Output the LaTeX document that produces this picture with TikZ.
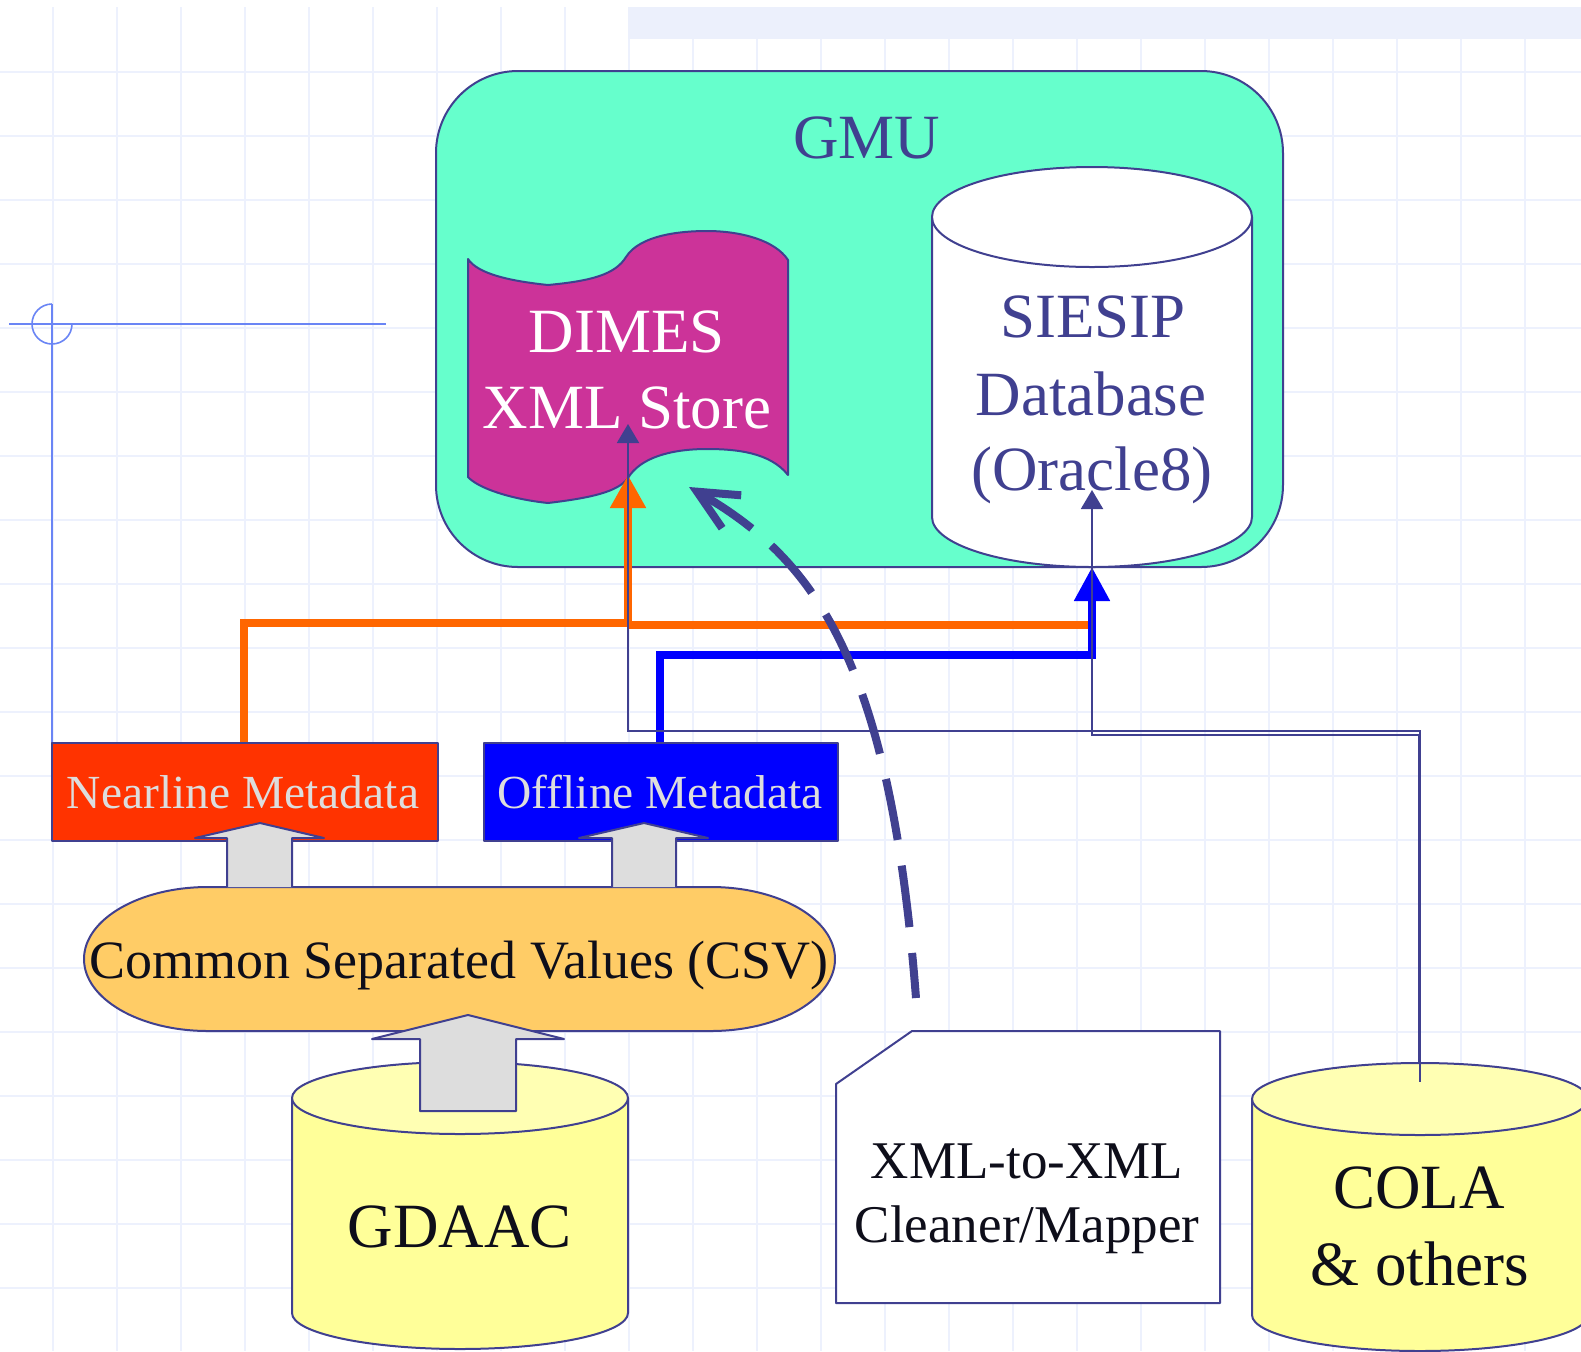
\documentclass[tikz,border=0pt]{standalone}
\usepackage{fontspec}
\setmainfont{Liberation Serif}
\usetikzlibrary{arrows.meta}
\definecolor{gridc}{HTML}{EDF1FD}
\definecolor{bandc}{HTML}{ECF0FC}
\definecolor{edgec}{HTML}{404090}
\definecolor{crossc}{HTML}{6A85F5}
\definecolor{gmuc}{HTML}{66FFCC}
\definecolor{dimesc}{HTML}{CC3399}
\definecolor{nearc}{HTML}{FF3300}
\definecolor{offc}{HTML}{0000FF}
\definecolor{grayc}{HTML}{DDDDDD}
\definecolor{csvc}{HTML}{FFCC66}
\definecolor{cylc}{HTML}{FFFF99}
\definecolor{cyltopc}{HTML}{FFFFB3}
\definecolor{orangec}{HTML}{FF6600}
\definecolor{textdark}{HTML}{0E0E1A}
\definecolor{metatext}{HTML}{DDDDDD}
\tikzset{
  gridline/.style={draw=gridc, line width=1pt},
  crossline/.style={draw=crossc, line width=0.8pt},
  outline/.style={draw=edgec, line width=1pt, line join=round},
  thinconn/.style={draw=edgec, line width=1pt, -{Triangle[width=11pt,length=9.5pt]}},
  thickorange/.style={draw=orangec, line width=4pt},
  thickblue/.style={draw=offc, line width=4pt},
  bigtxt/.style={font=\fontsize{31.5}{37}\selectfont, inner sep=0pt, anchor=base},
  midtxt/.style={font=\fontsize{26.5}{32}\selectfont, inner sep=0pt, anchor=base},
  metatxt/.style={font=\fontsize{23.75}{28}\selectfont, inner sep=0pt, anchor=base, text=metatext},
  dashcurve/.style={draw=edgec, line width=4pt, dash pattern=on 31pt off 13pt},
}
\begin{document}
\begin{tikzpicture}[x=0.5pt,y=-0.5pt]
\useasboundingbox (0,0) rectangle (1581,1351);
\clip (0,0) rectangle (1581,1351);
\fill[white] (0,0) rectangle (1581,1351);
% background grid
\foreach \i in {0,...,23} \draw[gridline] ({53+64*\i},7) -- ({53+64*\i},1351);
\foreach \j in {1,...,20} \draw[gridline] (0,{8+64*\j}) -- (1581,{8+64*\j});
\fill[bandc] (628,7) rectangle (1581,39);

% named points
\coordinate (nearTL) at (52,743);
\coordinate (nearTop) at (244,743);
\coordinate (offTop) at (660,743);
\coordinate (dimesBot) at (628,475);
\coordinate (dimesIn) at (628,424);
\coordinate (dimesBend) at (628,731);
\coordinate (siesipBot) at (1092,567);
\coordinate (siesipIn) at (1092,490);
\coordinate (siesipBend) at (1092,735);
\coordinate (orangeSplit) at (628,625);
\coordinate (orangeEnd) at (1089,625);
\coordinate (colaTopA) at (1420,1082);
\coordinate (colaTopB) at (1419,1082);
\coordinate (dimesNear) at (689,487);
\coordinate (xmlOut) at (916,998);
\coordinate (crossC) at (52,324);
\coordinate (crossL) at (9,324);
\coordinate (crossR) at (386,324);
\coordinate (crossTop) at (52,304);

% crosshair
\draw[crossline] (crossL) -- (crossR);
\draw[crossline] (72,324) arc[start angle=0, end angle=270, radius=20];
\draw[crossline] (crossTop) -- (nearTL);

% GMU container
\draw[outline, fill=gmuc, rounded corners=41pt] (436,71) rectangle (1283,567);
\node[bigtxt, text=edgec] (gmuT) at (867,158) {GMU};

% DIMES document
\draw[outline, fill=dimesc]
  (468,477) -- (468,259)
  .. controls (478,274) and (510,281) .. (548,285)
  .. controls (590,281) and (615,275) .. (626,257)
  .. controls (640,235) and (680,231) .. (707,231)
  .. controls (740,231) and (775,240) .. (788,260)
  -- (788,475)
  .. controls (770,452) and (735,449) .. (707,449)
  .. controls (670,449) and (640,458) .. (628,478)
  .. controls (618,492) and (590,498) .. (548,503)
  .. controls (510,499) and (478,488) .. (468,477) -- cycle;
\node[bigtxt, text=white] (dimesA) at (627,352) {DIMES};
\node[bigtxt, text=white] (dimesB) at (627,428) {XML Store};

% SIESIP cylinder
\draw[outline, fill=white] (932,217) -- (932,517)
  arc[start angle=180, end angle=0, x radius=160, y radius=50] -- (1252,217) -- cycle;
\draw[outline, fill=white] (1092,217) ellipse [x radius=160, y radius=50];
\node[bigtxt, text=edgec] (siesipA) at (1093,337) {SIESIP};
\node[bigtxt, text=edgec] (siesipB) at (1091,415) {Database};
\node[bigtxt, text=edgec] (siesipC) at (1092,490) {(Oracle8)};

% thick connectors
\draw[thickorange, -{Triangle[width=17pt,length=16.5pt]}] (nearTop) -- ++(0,-120) -| (dimesBot);
\draw[thickorange] (orangeSplit) -- (orangeEnd);
\draw[thickblue, -{Triangle[width=17pt,length=17pt]}] (offTop) -- ++(0,-88) -| (siesipBot);

% thin connectors
\draw[thinconn] (colaTopA) |- (dimesBend) -- (dimesIn);
\draw[thinconn] (colaTopB) |- (siesipBend) -- (siesipIn);

% metadata boxes
\draw[outline, fill=nearc] (52,743) rectangle (438,841);
\node[metatxt] (nearT) at (243,808) {Nearline Metadata};
\draw[outline, fill=offc] (484,743) rectangle (838,841);
\node[metatxt] (offT) at (660,808) {Offline Metadata};

% CSV
\draw[outline, fill=csvc] (208,887) -- (711,887)
  arc[start angle=270, end angle=450, x radius=124, y radius=72]
  -- (208,1031)
  arc[start angle=90, end angle=270, x radius=124, y radius=72] -- cycle;
\node[midtxt, text=textdark, font=\fontsize{27}{32}\selectfont] (csvT) at (459,978) {Common Separated Values (CSV)};

% block arrows CSV -> metadata
\draw[outline, fill=grayc] (227,887) -- (227,838) -- (195,838) -- (260,823) -- (324,838) -- (292,838) -- (292,887);
\draw[outline, fill=grayc] (612,887) -- (612,838) -- (579,838) -- (644,823) -- (708,838) -- (676,838) -- (676,887);

% GDAAC cylinder
\draw[outline, fill=cylc] (292,1098) -- (292,1313)
  arc[start angle=180, end angle=0, x radius=168, y radius=36] -- (628,1098) -- cycle;
\draw[outline, fill=cyltopc] (460,1098) ellipse [x radius=168, y radius=36];
\node[bigtxt, text=textdark] (gdaacT) at (460,1247) {GDAAC};
\draw[outline, fill=grayc] (420,1111) -- (420,1039) -- (372,1039) -- (468,1015) -- (564,1039) -- (516,1039) -- (516,1111) -- cycle;

% COLA cylinder
\draw[outline, fill=cylc] (1252,1099) -- (1252,1315)
  arc[start angle=180, end angle=0, x radius=168, y radius=36] -- (1588,1099) -- cycle;
\draw[outline, fill=cyltopc] (1420,1099) ellipse [x radius=168, y radius=36];
\draw[outline] (1420,1063) -- (colaTopA);
\node[bigtxt, text=textdark] (colaA) at (1419,1208) {COLA};
\node[bigtxt, text=textdark] (colaB) at (1420,1285) {\& others};

% XML-to-XML document
\draw[outline, fill=white] (836,1084) -- (912,1031) -- (1220,1031) -- (1220,1303) -- (836,1303) -- cycle;
\node[midtxt, text=textdark] (xmlA) at (1027,1178) {XML-to-XML};
\node[midtxt, text=textdark] (xmlB) at (1027,1242) {Cleaner/Mapper};

% dashed curve
\draw[dashcurve, {Straight Barb[length=20pt,width=19pt]}-] (dimesNear) .. controls (815,560) and (890,660) .. (xmlOut);
\end{tikzpicture}
\end{document}
